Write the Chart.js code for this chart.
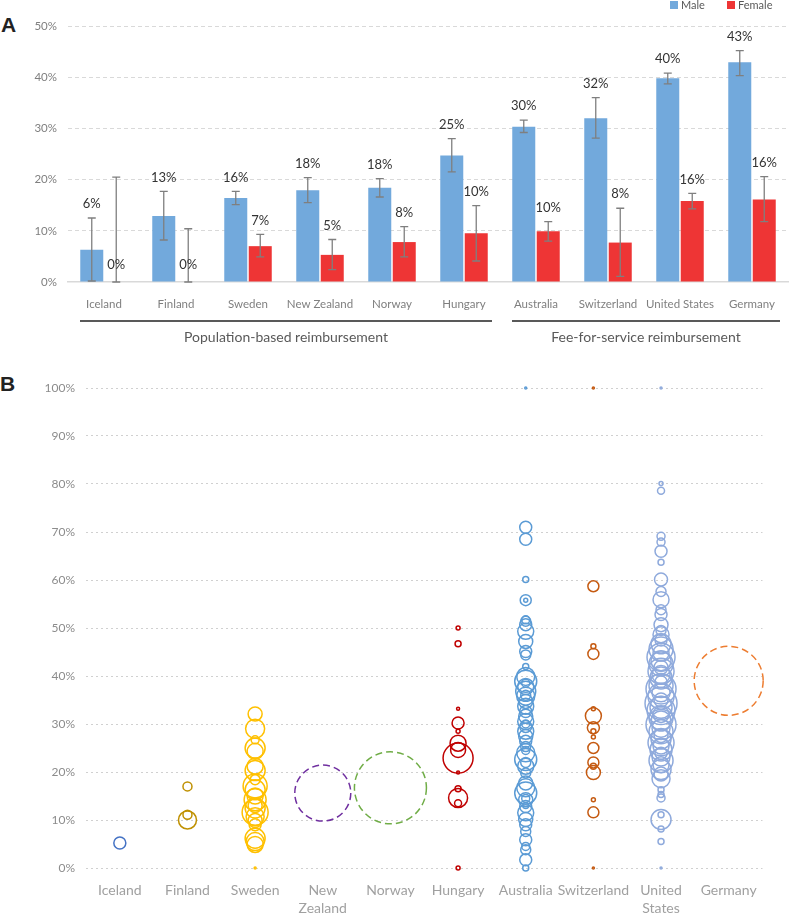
<!DOCTYPE html>
<html>
<head>
<meta charset="utf-8">
<script src="https://cdn.jsdelivr.net/npm/chart.js"></script>
<style>
  html, body { margin: 0; padding: 0; background: #fff; }
  body { width: 800px; height: 915px; position: relative; overflow: hidden; font-family: Lato, "Open Sans", sans-serif; }
  .panel-letter { position: absolute; font: bold 21px "Liberation Sans", Arial, sans-serif; color: #222; }
  #top { position: absolute; left: 0; top: 0; }
  #bottom { position: absolute; left: 0; top: 350px; }
</style>
</head>
<body>
<div class="panel-letter" style="left:1px; top:13px;">A</div>
<div class="panel-letter" style="left:0px; top:372px;">B</div>
<canvas id="top" width="800" height="350"></canvas>
<canvas id="bottom" width="800" height="565"></canvas>
<script>
// 국가 목록
const countries = ['Iceland', 'Finland', 'Sweden', 'New Zealand', 'Norway', 'Hungary', 'Australia', 'Switzerland', 'United States', 'Germany'];
const bottomLabels = ['Iceland', 'Finland', 'Sweden', ['New', 'Zealand'], 'Norway', 'Hungary', 'Australia', 'Switzerland', ['United', 'States'], 'Germany'];

// A: 성별 비율 (%), 오차 범위
const maleValues = [6.3, 12.9, 16.4, 17.9, 18.4, 24.7, 30.3, 32.0, 39.8, 42.9];
const maleErrLow = [0.2, 8.2, 15.1, 15.5, 16.6, 21.5, 29.2, 28.1, 38.7, 40.3];
const maleErrHigh = [12.5, 17.7, 17.7, 20.4, 20.2, 28.0, 31.6, 36.0, 40.8, 45.2];
const femaleValues = [0, 0, 7.0, 5.3, 7.8, 9.5, 9.9, 7.7, 15.8, 16.1];
const femaleErrLow = [0, 0, 4.9, 2.4, 4.9, 4.1, 8.0, 1.1, 14.3, 11.8];
const femaleErrHigh = [20.5, 10.4, 9.3, 8.3, 10.8, 14.9, 11.8, 14.4, 17.3, 20.6];
const topTicks = [0, 10, 20, 30, 40, 50];

const groups = [
    { label: 'Population-based reimbursement', from: 0, to: 5 },
    { label: 'Fee-for-service reimbursement', from: 6, to: 9 },
];

// B: 국가별 [값(%), 크기]
const icelandPoints = [[5.2, 6]];
const finlandPoints = [[17.0, 4.5], [11.1, 4.5], [10.0, 9]];
const swedenPoints = [[32.1, 7], [29.0, 9.5], [26.7, 4], [25.0, 10], [24.3, 8], [21.2, 8], [20.3, 10], [18.4, 5], [17.1, 12], [16.3, 10],
    [15.0, 8], [14.2, 11], [13.0, 7], [12.5, 10], [11.6, 13], [10.7, 9], [9.9, 7], [9.0, 6], [6.2, 10], [5.5, 9], [4.9, 8], [0, 1]];
const newZealandPoints = [[15.6, 28]];
const norwayPoints = [[16.7, 36]];
const hungaryPoints = [[50.0, 2], [46.7, 3], [33.2, 1.5], [30.2, 6], [28.5, 2], [26.0, 8], [24.6, 7.5], [22.9, 15], [19.9, 1.5],
    [16.5, 3], [14.6, 9.5], [13.5, 3.5], [0, 2]];
const australiaPoints = [[100, 1], [71.0, 6], [68.5, 6], [60.1, 3], [55.8, 5.5], [55.8, 2], [51.7, 4], [51.4, 5], [50.7, 6], [49.3, 8],
    [47.2, 7], [45.1, 6], [44.4, 5], [42.0, 3], [39.9, 9], [38.9, 11], [38.5, 4], [37.8, 8], [36.8, 10], [36.0, 5], [35.8, 9], [34.7, 7],
    [33.7, 8], [32.6, 6], [31.6, 7], [30.5, 8], [30.0, 4], [29.5, 6], [28.5, 8], [27.4, 7], [26.4, 6], [25.3, 5], [24.5, 4], [24.0, 9],
    [22.6, 11], [22.0, 5], [21.2, 8], [19.8, 5], [17.7, 7], [16.7, 9], [15.6, 11], [14.5, 4], [14.2, 7], [13.0, 3], [12.8, 6], [11.5, 8],
    [10.1, 7], [9.0, 6], [7.6, 5], [5.9, 6], [4.5, 4], [3.8, 5], [1.7, 6], [0, 3]];
const switzerlandPoints = [[100, 1], [58.7, 5.5], [46.2, 2.5], [44.6, 5.5], [33.2, 2], [31.7, 8], [29.2, 6], [28.5, 2.5], [27.3, 2],
    [25.0, 5.5], [22.0, 5.5], [21.2, 3], [19.9, 7], [14.2, 2], [11.6, 5.5], [0, 1]];
const unitedStatesPoints = [[100, 1], [80.1, 2], [78.6, 3.5], [69.1, 4], [67.9, 4], [66.0, 6], [63.7, 3], [60.1, 6.5], [57.6, 5],
    [55.9, 8], [53.8, 5], [52.8, 6], [50.7, 7], [49.5, 5], [48.6, 8], [47.5, 6], [46.7, 10], [45.6, 12], [44.8, 8], [43.9, 14],
    [43.2, 10], [42.5, 12], [41.8, 7], [41.0, 13], [40.3, 9], [39.6, 11], [38.8, 6], [38.0, 12], [37.3, 15], [36.5, 9], [35.8, 13],
    [35.0, 7], [34.3, 16], [33.5, 11], [32.8, 14], [32.0, 8], [31.3, 12], [30.6, 10], [29.9, 15], [29.1, 9], [28.4, 12], [27.6, 7],
    [26.9, 10], [26.1, 13], [25.4, 8], [24.6, 11], [23.9, 6], [23.1, 9], [22.4, 12], [21.5, 8], [20.5, 10], [19.6, 7], [18.6, 9],
    [16.3, 3], [15.3, 3], [14.6, 4], [11.1, 3], [10.1, 10], [8.1, 3], [5.5, 3], [0, 1]];
const germanyPoints = [[39.0, 34.5]];
const bottomTicks = [0, 10, 20, 30, 40, 50, 60, 70, 80, 90, 100];

const countryPoints = [icelandPoints, finlandPoints, swedenPoints, newZealandPoints, norwayPoints, hungaryPoints,
    australiaPoints, switzerlandPoints, unitedStatesPoints, germanyPoints];
const bubbleColors = ['#4472C4', '#BF9000', '#FFC000', '#7030A0', '#70AD47', '#C00000', '#5B9BD5', '#C55A11', '#8FAADC', '#ED7D31'];
const dashedCountries = ['New Zealand', 'Norway', 'Germany'];

const maleColor = '#72A9DC';
const femaleColor = '#EE3535';
const fontFamily = 'Lato, "Open Sans", sans-serif';

// 오차 막대 + 값 라벨
const errorBarPlugin = {
    id: 'errorBars',
    afterDatasetsDraw(chart) {
        const ctx = chart.ctx;
        const y = chart.scales.y;
        ctx.save();
        chart.data.datasets.forEach((ds, di) => {
            const meta = chart.getDatasetMeta(di);
            meta.data.forEach((bar, i) => {
                const hi = y.getPixelForValue(ds.errHigh[i]);
                const lo = y.getPixelForValue(ds.errLow[i]);
                ctx.strokeStyle = '#7f7f7f';
                ctx.lineWidth = 1.3;
                ctx.beginPath();
                ctx.moveTo(bar.x, hi); ctx.lineTo(bar.x, lo);
                ctx.moveTo(bar.x - 4, hi); ctx.lineTo(bar.x + 4, hi);
                ctx.moveTo(bar.x - 4, lo); ctx.lineTo(bar.x + 4, lo);
                ctx.stroke();

                const v = ds.data[i];
                const ly = v > 0 ? Math.min(bar.y, hi) - 14 : bar.y - 17;
                ctx.fillStyle = '#333';
                ctx.font = '13px ' + fontFamily;
                ctx.textAlign = 'center';
                ctx.textBaseline = 'middle';
                ctx.fillText(Math.round(v) + '%', bar.x, ly);
            });
        });
        ctx.restore();
    },
    afterDraw(chart) {
        const ctx = chart.ctx;
        const x = chart.scales.x;
        ctx.save();
        // 그룹 구분선
        groups.forEach((g) => {
            const x1 = x.getPixelForValue(g.from) - 24;
            const x2 = x.getPixelForValue(g.to) + 28;
            ctx.strokeStyle = '#595959';
            ctx.lineWidth = 2;
            ctx.beginPath();
            ctx.moveTo(x1, 321); ctx.lineTo(x2, 321);
            ctx.stroke();
            ctx.fillStyle = '#595959';
            ctx.font = '14px ' + fontFamily;
            ctx.textAlign = 'center';
            ctx.textBaseline = 'middle';
            ctx.fillText(g.label, (x1 + x2) / 2, 337);
        });
        // 범례
        ctx.font = '11px ' + fontFamily;
        ctx.textAlign = 'left';
        ctx.textBaseline = 'middle';
        [['Male', maleColor, 670], ['Female', femaleColor, 727]].forEach(([t, c, lx]) => {
            ctx.fillStyle = c;
            ctx.fillRect(lx, 1, 8, 8);
            ctx.fillStyle = '#595959';
            ctx.fillText(t, lx + 11, 5);
        });
        ctx.restore();
    }
};

new Chart(document.getElementById('top'), {
    type: 'bar',
    data: {
        labels: countries,
        datasets: [
            { label: 'Male', data: maleValues, errLow: maleErrLow, errHigh: maleErrHigh, backgroundColor: maleColor },
            { label: 'Female', data: femaleValues, errLow: femaleErrLow, errHigh: femaleErrHigh, backgroundColor: femaleColor },
        ],
    },
    options: {
        responsive: false,
        animation: false,
        layout: { padding: { top: 26, right: 12, left: 0, bottom: 0 } },
        plugins: { legend: { display: false }, tooltip: { enabled: false } },
        datasets: { bar: { categoryPercentage: 0.68, barPercentage: 0.94 } },
        scales: {
            x: {
                grid: { display: false },
                border: { display: true, color: '#d9d9d9', width: 1.5 },
                ticks: { color: '#7f7f7f', font: { family: fontFamily, size: 11.5 }, padding: 7, maxRotation: 0, autoSkip: false },
                afterFit: (s) => { s.height = 68; },
            },
            y: {
                min: 0, max: 50,
                afterBuildTicks: (s) => { s.ticks = topTicks.map((v) => ({ value: v })); },
                grid: { color: (c) => c.tick && c.tick.value === 0 ? 'rgba(0,0,0,0)' : '#d9d9d9', drawTicks: false },
                border: { display: false, dash: [4, 3] },
                ticks: { color: '#7f7f7f', font: { family: fontFamily, size: 11.5 }, padding: 11, callback: (v) => v + '%' },
                afterFit: (s) => { s.width = 68; },
            },
        },
    },
    plugins: [errorBarPlugin],
});

// 점선 원 처리
const dashPlugin = {
    id: 'dashedBubbles',
    beforeDatasetDraw(chart, args) {
        const ds = chart.data.datasets[args.index];
        chart.ctx.save();
        if (ds.dashed) chart.ctx.setLineDash([7, 4]);
    },
    afterDatasetDraw(chart) {
        chart.ctx.restore();
    }
};

new Chart(document.getElementById('bottom'), {
    type: 'bubble',
    data: {
        labels: countries,
        datasets: countries.map((c, i) => ({
            label: c,
            data: countryPoints[i].map(([v, r]) => ({ x: c, y: v, r: r })),
            borderColor: bubbleColors[i],
            backgroundColor: 'rgba(0,0,0,0)',
            borderWidth: 1.5,
            dashed: dashedCountries.includes(c),
            clip: false,
        })),
    },
    options: {
        responsive: false,
        animation: false,
        layout: { padding: { top: 38, right: 0, left: 0, bottom: 0 } },
        plugins: { legend: { display: false }, tooltip: { enabled: false } },
        scales: {
            x: {
                type: 'category',
                labels: countries,
                offset: true,
                grid: { display: false },
                border: { display: false },
                ticks: {
                    color: '#a0a0a0', font: { family: fontFamily, size: 14, lineHeight: 1.3 }, padding: 5, maxRotation: 0, autoSkip: false,
                    callback: (v, i) => bottomLabels[i],
                },
                afterFit: (s) => { s.height = 47; },
            },
            y: {
                min: 0, max: 100,
                afterBuildTicks: (s) => { s.ticks = bottomTicks.map((v) => ({ value: v })); },
                grid: { color: '#d0d0d0', drawTicks: false },
                border: { display: false, dash: [2, 3] },
                ticks: { color: '#8c8c8c', font: { family: fontFamily, size: 12 }, padding: 11, callback: (v) => v + '%' },
                afterFit: (s) => { s.width = 86; },
            },
        },
    },
    plugins: [dashPlugin],
});
</script>
</body>
</html>
